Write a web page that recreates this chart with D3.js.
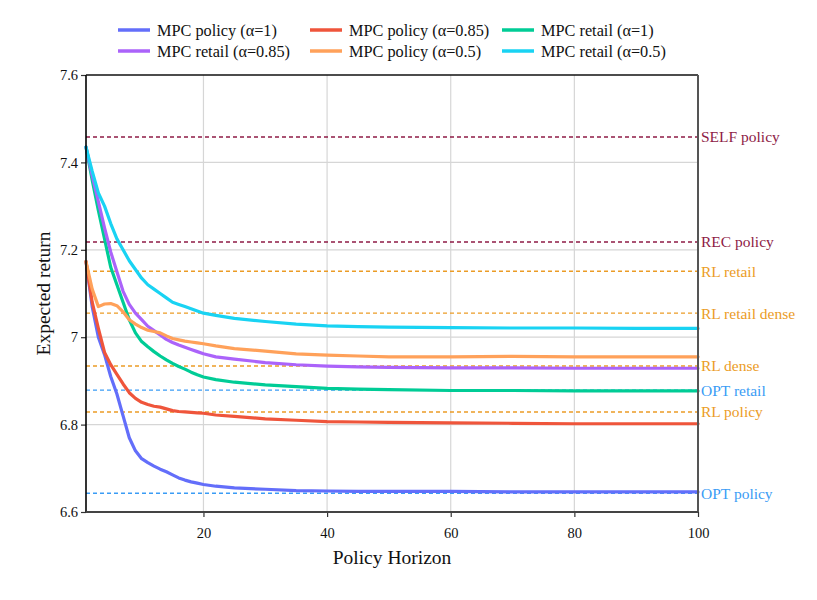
<!DOCTYPE html>
<html>
<head>
<meta charset="utf-8">
<script src="https://cdn.jsdelivr.net/npm/d3@7"></script>
<style>
  body { margin: 0; background: #fff; }
  svg text { font-family: "Liberation Serif", "DejaVu Serif", serif; }
</style>
</head>
<body>
<div id="chart"></div>
<script>
// horizons
const horizons = [1,2,3,4,5,6,7,8,9,10,11,12,13,14,15,16,17,18,19,20,22,25,30,35,40,45,50,60,70,80,90,100];

const mpcPolicy1 = [7.173,7.07,7.0,6.96,6.91,6.87,6.82,6.77,6.74,6.722,6.713,6.705,6.698,6.692,6.685,6.678,6.673,6.669,6.666,6.663,6.659,6.655,6.652,6.649,6.648,6.647,6.647,6.647,6.646,6.646,6.646,6.646];
const mpcPolicy085 = [7.173,7.08,7.02,6.965,6.937,6.915,6.893,6.873,6.86,6.851,6.846,6.842,6.840,6.836,6.832,6.83,6.829,6.828,6.827,6.826,6.822,6.819,6.813,6.81,6.807,6.806,6.805,6.804,6.803,6.802,6.802,6.802];
const mpcRetail1 = [7.435,7.36,7.29,7.225,7.16,7.12,7.08,7.04,7.01,6.99,6.978,6.967,6.957,6.948,6.94,6.933,6.927,6.92,6.914,6.909,6.903,6.897,6.891,6.887,6.883,6.881,6.88,6.878,6.878,6.877,6.877,6.877];
const mpcRetail085 = [7.435,7.37,7.31,7.25,7.195,7.15,7.105,7.075,7.055,7.04,7.025,7.015,7.005,6.995,6.988,6.982,6.977,6.972,6.967,6.962,6.955,6.95,6.942,6.937,6.934,6.932,6.931,6.93,6.93,6.929,6.929,6.929];
const mpcPolicy05 = [7.173,7.11,7.07,7.076,7.077,7.072,7.058,7.04,7.03,7.022,7.016,7.013,7.01,7.003,6.997,6.994,6.991,6.989,6.987,6.985,6.98,6.974,6.968,6.962,6.959,6.957,6.955,6.955,6.956,6.955,6.955,6.955];
const mpcRetail05 = [7.435,7.38,7.33,7.30,7.26,7.225,7.20,7.175,7.155,7.135,7.12,7.11,7.10,7.09,7.08,7.075,7.07,7.065,7.06,7.055,7.05,7.043,7.036,7.03,7.026,7.024,7.023,7.022,7.021,7.021,7.02,7.02];

const seriesNames = ["MPC policy (α=1)", "MPC policy (α=0.85)", "MPC retail (α=1)", "MPC retail (α=0.85)", "MPC policy (α=0.5)", "MPC retail (α=0.5)"];
const seriesValues = [mpcPolicy1, mpcPolicy085, mpcRetail1, mpcRetail085, mpcPolicy05, mpcRetail05];
const seriesColors = ["#636efa", "#ef553b", "#00cc96", "#ab63fa", "#ffa15a", "#19d3f3"];

// reference levels (dashed)
const refNames = ["SELF policy", "REC policy", "RL retail", "RL retail dense", "RL dense", "OPT retail", "RL policy", "OPT policy"];
const refValues = [7.458, 7.218, 7.151, 7.055, 6.934, 6.879, 6.829, 6.643];
const refGroups = ["base", "base", "rl", "rl", "rl", "opt", "rl", "opt"];
const refColors = {base: "#8e1b45", rl: "#eb9c26", opt: "#3a9cf5"};

const xTicks = [20, 40, 60, 80, 100];
const yTicks = [6.6, 6.8, 7.0, 7.2, 7.4, 7.6];

const W = 817, H = 600;
const margin = {top: 75, right: 119, bottom: 88, left: 86};
const iw = W - margin.left - margin.right;
const ih = H - margin.top - margin.bottom;

const svg = d3.select("#chart").append("svg").attr("width", W).attr("height", H);
const g = svg.append("g").attr("transform", `translate(${margin.left},${margin.top})`);

const x = d3.scaleLinear().domain([1, 100]).range([0, iw]);
const y = d3.scaleLinear().domain([6.6, 7.6]).range([ih, 0]);

// grid
g.append("g").selectAll("line").data(xTicks.filter(t => t < 100)).join("line")
  .attr("x1", d => x(d)).attr("x2", d => x(d)).attr("y1", 0).attr("y2", ih)
  .attr("stroke", "#d6d6d6").attr("stroke-width", 1.2);
g.append("g").selectAll("line").data(yTicks.filter(t => t > 6.6 && t < 7.6)).join("line")
  .attr("x1", 0).attr("x2", iw).attr("y1", d => y(d)).attr("y2", d => y(d))
  .attr("stroke", "#d6d6d6").attr("stroke-width", 1.2);

// dashed reference lines
refValues.forEach((v, i) => {
  const c = refColors[refGroups[i]];
  g.append("line").attr("x1", 0).attr("x2", iw).attr("y1", y(v)).attr("y2", y(v))
    .attr("stroke", c).attr("stroke-width", 1.4).attr("stroke-dasharray", "4,3");
  g.append("text").attr("x", iw + 3).attr("y", y(v)).attr("dy", "0.35em")
    .attr("fill", c).style("font-size", "15.5px").text(refNames[i]);
});

// series
const line = d3.line().x((d, i) => x(horizons[i])).y(d => y(d));
seriesValues.forEach((vals, i) => {
  g.append("path").datum(vals).attr("d", line)
    .attr("fill", "none").attr("stroke", seriesColors[i])
    .attr("stroke-width", 3.2).attr("stroke-linejoin", "round").attr("stroke-linecap", "round");
});

// axes
const xAxis = g.append("g").attr("transform", `translate(0,${ih})`)
  .call(d3.axisBottom(x).tickValues(xTicks).tickSize(5).tickSizeOuter(0));
const yAxis = g.append("g")
  .call(d3.axisLeft(y).tickValues(yTicks).tickFormat(d => String(+d.toFixed(1))).tickSize(5).tickSizeOuter(0));
[xAxis, yAxis].forEach(a => {
  a.select(".domain").remove();
  a.selectAll(".tick line").attr("stroke", "#333").attr("stroke-width", 1.2);
  a.selectAll(".tick text").style("font-family", '"Liberation Serif", serif').style("font-size", "14.5px").attr("fill", "#111");
});
xAxis.selectAll(".tick text").attr("dy", "1.25em");

// frame
g.append("line").attr("x1", 0).attr("x2", 0).attr("y1", 0).attr("y2", ih).attr("stroke", "#000").attr("stroke-width", 1.6);
g.append("line").attr("x1", 0).attr("x2", iw).attr("y1", 0).attr("y2", 0).attr("stroke", "#111").attr("stroke-width", 1.6);
g.append("line").attr("x1", iw).attr("x2", iw).attr("y1", 0).attr("y2", ih).attr("stroke", "#555").attr("stroke-width", 2);
g.append("line").attr("x1", 0).attr("x2", iw).attr("y1", ih).attr("y2", ih).attr("stroke", "#444").attr("stroke-width", 2);

// axis labels
svg.append("text").attr("x", margin.left + iw / 2).attr("y", 564).attr("text-anchor", "middle")
  .style("font-size", "19.5px").attr("fill", "#111").text("Policy Horizon");
svg.append("text").attr("transform", `translate(50,${margin.top + ih / 2}) rotate(-90)`).attr("text-anchor", "middle")
  .style("font-size", "19.5px").attr("fill", "#111").text("Expected return");

// legend
const legendCols = [118, 310, 502];
const legendRows = [30, 51];
const legend = svg.append("g");
seriesNames.forEach((name, i) => {
  const lx = legendCols[i % 3], ly = legendRows[Math.floor(i / 3)];
  legend.append("line").attr("x1", lx).attr("x2", lx + 32).attr("y1", ly).attr("y2", ly)
    .attr("stroke", seriesColors[i]).attr("stroke-width", 3.5);
  legend.append("text").attr("x", lx + 39).attr("y", ly).attr("dy", "0.35em")
    .style("font-size", "16.3px").attr("fill", "#111").text(name);
});
</script>
</body>
</html>
